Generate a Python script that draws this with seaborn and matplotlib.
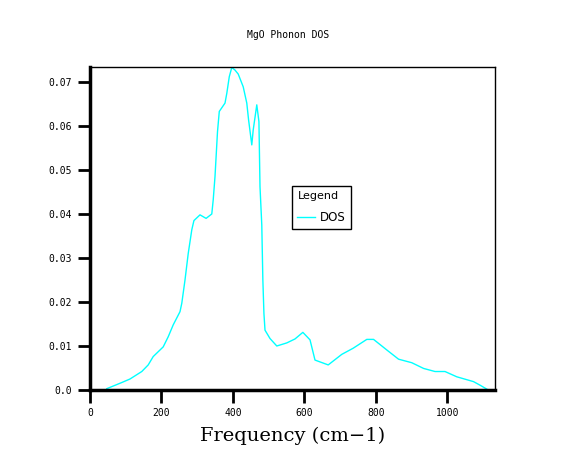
import seaborn as sns
import matplotlib.pyplot as plt
import pandas as pd

# values
freq = [47, 89, 112, 145, 163, 177, 205, 219, 233, 252, 257, 266, 275, 285, 291,
        308, 325, 341, 345, 350, 357, 362, 378, 383, 390, 397, 406, 415, 429, 439,
        444, 453, 457, 467, 473, 476, 481, 484, 487, 490, 504, 523, 551, 574, 596,
        616, 630, 667, 705, 737, 775, 794, 831, 864, 901, 934, 966, 994, 1027,
        1074, 1092, 1111]
dos = [0.0003, 0.0017, 0.0025, 0.0042, 0.0057, 0.0076, 0.0098, 0.0121, 0.0148,
       0.0178, 0.0197, 0.0250, 0.0310, 0.0364, 0.0385, 0.0398, 0.0390, 0.0400,
       0.0432, 0.0485, 0.0587, 0.0633, 0.0652, 0.0674, 0.0712, 0.0733, 0.0727,
       0.0718, 0.0689, 0.0652, 0.0614, 0.0557, 0.0591, 0.0648, 0.0610, 0.0462,
       0.0375, 0.0250, 0.0174, 0.0136, 0.0117, 0.0100, 0.0107, 0.0116, 0.0131,
       0.0114, 0.0068, 0.0057, 0.0081, 0.0095, 0.0115, 0.0115, 0.0091, 0.0070,
       0.0062, 0.0049, 0.0042, 0.0042, 0.0030, 0.0019, 0.0011, 0.0002]
x_ticks = [0, 200, 400, 600, 800, 1000]
y_ticks = [0.0, 0.01, 0.02, 0.03, 0.04, 0.05, 0.06, 0.07]
y_labels = ["0.0", "0.01", "0.02", "0.03", "0.04", "0.05", "0.06", "0.07"]

df = pd.DataFrame({"Frequency": freq, "DOS": dos})

fig = plt.figure(figsize=(5.76, 4.69), dpi=100)
ax = fig.add_axes([90 / 576, 79 / 469, 405 / 576, 323 / 469])

sns.lineplot(data=df, x="Frequency", y="DOS", color="#00ffff", linewidth=1,
             estimator=None, label="DOS", ax=ax)

ax.set_xlim(0, 1134)
ax.set_ylim(0, 0.0734)
ax.set_xticks(x_ticks)
ax.set_xticklabels([str(t) for t in x_ticks], family="DejaVu Sans Mono", fontsize=7)
ax.set_yticks(y_ticks)
ax.set_yticklabels(y_labels, family="DejaVu Sans Mono", fontsize=7)
ax.tick_params(direction="out", length=9, width=2, pad=4)

for side in ["left", "bottom"]:
    ax.spines[side].set_linewidth(2.5)
for side in ["top", "right"]:
    ax.spines[side].set_linewidth(1)

ax.set_ylabel("")
ax.set_xlabel("Frequency (cm\u22121)", family="DejaVu Serif", fontsize=14, labelpad=6)
fig.text(0.5, 1 - 35 / 469, "MgO Phonon DOS", ha="center", va="center",
         family="DejaVu Sans Mono", fontsize=7)

leg = ax.legend(title="Legend", loc="upper left", bbox_to_anchor=(0.499, 0.632),
                borderaxespad=0, fancybox=False, framealpha=1, fontsize=8.5,
                title_fontsize=8, handlelength=1.5, alignment="left",
                borderpad=0.45, labelspacing=0.6, handletextpad=0.4)
leg.get_frame().set_edgecolor("black")
leg.get_frame().set_linewidth(1)
leg._legend_box.sep = 7

fig.savefig("out.png", dpi=100)
